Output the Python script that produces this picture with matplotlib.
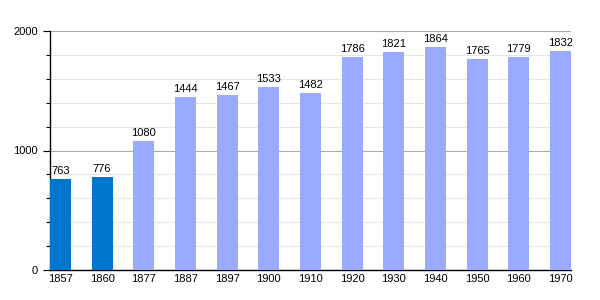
import matplotlib
matplotlib.use("Agg")
import matplotlib.pyplot as plt
from matplotlib.ticker import MultipleLocator

years = ["1857", "1860", "1877", "1887", "1897", "1900", "1910", "1920", "1930", "1940", "1950", "1960", "1970"]
values = [763, 776, 1080, 1444, 1467, 1533, 1482, 1786, 1821, 1864, 1765, 1779, 1832]
colors = ["#0077CC", "#0077CC"] + ["#99AAFF"] * 11

plt.rcParams['font.family'] = ['Liberation Sans', 'DejaVu Sans']
fig = plt.figure(figsize=(6, 3), dpi=100)
ax = fig.add_axes([50/600, 30/300, 521/600, 239/300])

x = list(range(len(years)))
ax.bar(x, values, width=0.5, color=colors, zorder=3)
for xi, v in zip(x, values):
    ax.text(xi, v + 25, str(v), ha='center', va='bottom', fontsize=8, color='black', zorder=4)

ax.set_xlim(-0.25, 12.25)
ax.set_ylim(0, 2000)
ax.set_xticks(x)
ax.set_xticklabels(years, fontsize=8)
ax.yaxis.set_major_locator(MultipleLocator(1000))
ax.yaxis.set_minor_locator(MultipleLocator(200))
ax.tick_params(axis='y', which='major', labelsize=8, length=5, direction='out', width=0.8)
ax.tick_params(axis='y', which='minor', length=3, direction='out', width=0.8)
ax.tick_params(axis='x', length=0, pad=3)
ax.grid(axis='y', which='minor', color='#e6e6e6', linewidth=0.8, zorder=0)
ax.grid(axis='y', which='major', color='#aaaaaa', linewidth=0.8, zorder=1)
for s in ['top', 'right']:
    ax.spines[s].set_visible(False)
ax.spines['left'].set_linewidth(1)
ax.spines['bottom'].set_linewidth(1)

fig.savefig("out.png", dpi=100)
